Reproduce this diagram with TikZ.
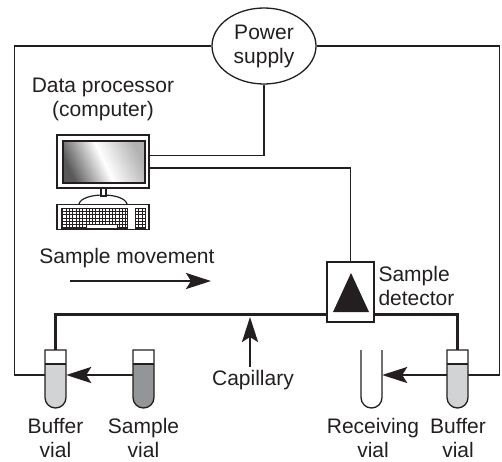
\documentclass[tikz,border=0pt]{standalone}
\usepackage{fontspec}
\setmainfont{Liberation Sans}
\usetikzlibrary{shapes.geometric,arrows.meta}

\definecolor{diagink}{RGB}{35,31,32}
\definecolor{bufferfill}{RGB}{209,211,212}
\definecolor{samplefill}{RGB}{147,149,152}

\begin{document}
\begin{tikzpicture}[yscale=-1
                ,pwire/.style={color=diagink,line width=1.3pt}
                ,pcap/.style={color=diagink,line width=3pt}
                ,pflow/.style={color=diagink,line width=2.5pt,-{Stealth[length=25pt,width=16pt,inset=5pt]}}
                ,plabel/.style={text=diagink,align=center,font=\fontsize{21}{24}\selectfont}
                ,pvial/.style={minimum width=21pt,minimum height=50pt,inner sep=0pt}
                ,pbox/.style={draw=diagink,fill=white,line width=1.3pt,inner sep=0pt}
                ,pkeys/.style={color=diagink,line width=0.5pt}
            ]
            \useasboundingbox (0pt,0pt) rectangle (502pt,461pt);
            % vial anchors
            \node[pvial] (bufL) at (55.5pt,375pt) {};
            \node[pvial] (smp) at (143.5pt,375pt) {};
            \node[pvial] (recv) at (371.5pt,375pt) {};
            \node[pvial] (bufR) at (457.5pt,375pt) {};
            % capillary runs under the detector box
            \draw[pcap] (bufL.north) -- ++(0pt,-35pt) -| (bufR.north);
            \node[pbox,minimum width=47pt,minimum height=60pt] (det) at (350.5pt,292pt) {};
            \fill[diagink] (351pt,273pt) -- (369pt,312pt) -- (333pt,312pt) -- cycle;
            \node[plabel,align=left,anchor=west] (detlbl) at (375pt,285.5pt) {Sample\\detector};
            % power supply and its leads
            \node[ellipse,draw=diagink,fill=white,line width=1.3pt,inner sep=0pt,minimum width=104pt,minimum height=76pt,plabel] (power) at (264pt,46pt) {Power\\supply};
            \draw[pwire] (power.west) -| ([xshift=-30pt]bufL.west) -- (bufL.west);
            \draw[pwire] (power.east) -| ([xshift=31pt]bufR.east) -- (bufR.east);
            % computer
            \node[plabel] (pclbl) at (103pt,99pt) {Data processor\\(computer)};
            \draw[color=diagink,line width=1.2pt] (79pt,204pt) .. controls (82pt,192pt) and (124pt,192pt) .. (127pt,204pt);
            \draw[color=diagink,fill=white,line width=1.2pt] (101pt,188pt) rectangle (106pt,196pt);
            \node[pbox,minimum width=92pt,minimum height=53pt] (pc) at (103pt,161.5pt) {};
            \shade[left color=black!65,right color=black!30,middle color=white,shading angle=115] (63pt,141pt) rectangle (145pt,183pt);
            \draw[color=diagink,line width=1.5pt] (63pt,141pt) rectangle (145pt,183pt);
            \node[pbox,minimum width=92pt,minimum height=25pt] (kbd) at (103pt,217pt) {};
            \draw[pkeys,step=3.3pt] (61pt,208pt) grid (127pt,228pt);
            \draw[pkeys] (61pt,208pt) rectangle (127pt,228pt);
            \draw[pkeys,fill=white] (86pt,224.7pt) rectangle (117pt,228pt);
            \draw[pkeys,step=3.3pt] (135pt,208pt) grid (145pt,228pt);
            \draw[pkeys] (135pt,208pt) rectangle (145pt,228pt);
            \draw[pwire] (pc.7) -| (power.south);
            \draw[pwire] (pc.-8) -| (det.north);
            % sample movement
            \node[plabel] (movelbl) at (127pt,258pt) {Sample movement};
            \coordinate (movefrom) at (70pt,281pt);
            \coordinate (moveto) at (211pt,281pt);
            \draw[pflow] (movefrom) -- (moveto);
            % capillary label
            \node[plabel] (caplbl) at (253pt,380pt) {Capillary};
            \coordinate (capin) at (250pt,317pt);
            \draw[pflow] (caplbl.north -| capin) -- (capin);
            % vials
            \fill[bufferfill] (45pt,364pt) -- (45pt,397.5pt) arc (180:0:10.5pt) -- (66pt,364pt) -- cycle;
            \draw[pwire] (45pt,350pt) -- (45pt,397.5pt) arc (180:0:10.5pt) -- (66pt,350pt) -- cycle;
            \draw[pwire] (45pt,364pt) -- (66pt,364pt);
            \fill[samplefill] (133pt,364pt) -- (133pt,397.5pt) arc (180:0:10.5pt) -- (154pt,364pt) -- cycle;
            \draw[pwire] (133pt,350pt) -- (133pt,397.5pt) arc (180:0:10.5pt) -- (154pt,350pt) -- cycle;
            \draw[pwire] (133pt,364pt) -- (154pt,364pt);
            \draw[pwire] (361pt,350pt) -- (361pt,397.5pt) arc (180:0:10.5pt) -- (382pt,350pt);
            \fill[bufferfill] (447pt,364pt) -- (447pt,397.5pt) arc (180:0:10.5pt) -- (468pt,364pt) -- cycle;
            \draw[pwire] (447pt,350pt) -- (447pt,397.5pt) arc (180:0:10.5pt) -- (468pt,350pt) -- cycle;
            \draw[pwire] (447pt,364pt) -- (468pt,364pt);
            \draw[pflow] (smp.west) -- (bufL.east);
            \draw[pflow] (bufR.west) -- (recv.east);
            \node[plabel] (bufLlbl) at (55.5pt,438pt) {Buffer\\vial};
            \node[plabel] (smplbl) at (143.5pt,438pt) {Sample\\vial};
            \node[plabel] (recvlbl) at (373pt,438pt) {Receiving\\vial};
            \node[plabel] (bufRlbl) at (458pt,438pt) {Buffer\\vial};
        \end{tikzpicture}
\end{document}
